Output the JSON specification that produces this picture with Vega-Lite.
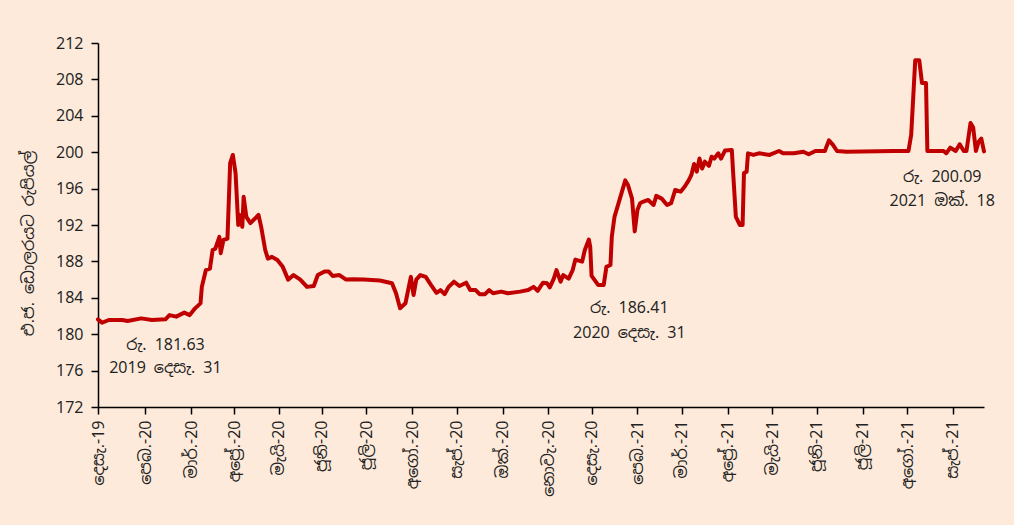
{
  "$schema": "https://vega.github.io/schema/vega-lite/v6.json",
  "width": 886,
  "height": 364,
  "autosize": {"type": "none"},
  "padding": {"left": 98, "top": 43, "right": 30, "bottom": 118},
  "background": "#FDEADA",
  "config": {
    "view": {"stroke": null},
    "font": "Noto Sans Sinhala, Noto Sans",
    "axis": {
      "domainColor": "#000000",
      "tickColor": "#000000",
      "labelColor": "#222222",
      "titleColor": "#222222",
      "labelFont": "Noto Sans Sinhala, Noto Sans",
      "titleFont": "Noto Sans Sinhala, Noto Sans",
      "labelFontSize": 16,
      "titleFontSize": 16,
      "titleFontWeight": "normal",
      "grid": false,
      "tickSize": 7,
      "domainWidth": 1.5,
      "tickWidth": 1.5,
      "labelOverlap": false
    }
  },
  "datasets": {
    "rate": [
      {"date": "2019-12-31", "value": 181.63},
      {"date": "2020-01-03", "value": 181.26},
      {"date": "2020-01-08", "value": 181.56},
      {"date": "2020-01-18", "value": 181.56},
      {"date": "2020-01-22", "value": 181.45},
      {"date": "2020-02-01", "value": 181.74},
      {"date": "2020-02-09", "value": 181.56},
      {"date": "2020-02-19", "value": 181.63},
      {"date": "2020-02-22", "value": 182.1},
      {"date": "2020-02-27", "value": 181.93},
      {"date": "2020-03-04", "value": 182.37},
      {"date": "2020-03-08", "value": 182.1},
      {"date": "2020-03-12", "value": 182.84},
      {"date": "2020-03-16", "value": 183.39},
      {"date": "2020-03-17", "value": 185.2},
      {"date": "2020-03-20", "value": 187.05},
      {"date": "2020-03-23", "value": 187.2},
      {"date": "2020-03-25", "value": 189.25},
      {"date": "2020-03-27", "value": 189.4},
      {"date": "2020-03-30", "value": 190.7},
      {"date": "2020-03-31", "value": 188.9},
      {"date": "2020-04-02", "value": 190.35},
      {"date": "2020-04-05", "value": 190.5},
      {"date": "2020-04-07", "value": 198.8},
      {"date": "2020-04-09", "value": 199.7},
      {"date": "2020-04-11", "value": 197.7},
      {"date": "2020-04-13", "value": 192.0},
      {"date": "2020-04-14", "value": 193.1},
      {"date": "2020-04-16", "value": 191.8},
      {"date": "2020-04-17", "value": 195.1},
      {"date": "2020-04-19", "value": 192.9},
      {"date": "2020-04-22", "value": 192.2},
      {"date": "2020-04-24", "value": 192.5},
      {"date": "2020-04-28", "value": 193.1},
      {"date": "2020-04-30", "value": 191.8},
      {"date": "2020-05-03", "value": 189.25},
      {"date": "2020-05-05", "value": 188.3},
      {"date": "2020-05-08", "value": 188.5},
      {"date": "2020-05-12", "value": 188.15},
      {"date": "2020-05-16", "value": 187.4},
      {"date": "2020-05-20", "value": 186.0},
      {"date": "2020-05-24", "value": 186.5},
      {"date": "2020-05-29", "value": 186.0},
      {"date": "2020-06-03", "value": 185.2},
      {"date": "2020-06-08", "value": 185.3},
      {"date": "2020-06-11", "value": 186.5},
      {"date": "2020-06-16", "value": 186.9},
      {"date": "2020-06-19", "value": 186.9},
      {"date": "2020-06-22", "value": 186.4},
      {"date": "2020-06-27", "value": 186.5},
      {"date": "2020-07-02", "value": 186.0},
      {"date": "2020-07-07", "value": 186.03},
      {"date": "2020-07-15", "value": 186.0},
      {"date": "2020-07-27", "value": 185.9},
      {"date": "2020-08-05", "value": 185.6},
      {"date": "2020-08-08", "value": 184.5},
      {"date": "2020-08-11", "value": 182.85},
      {"date": "2020-08-15", "value": 183.4},
      {"date": "2020-08-19", "value": 186.3},
      {"date": "2020-08-21", "value": 184.3},
      {"date": "2020-08-23", "value": 186.0},
      {"date": "2020-08-26", "value": 186.5},
      {"date": "2020-08-30", "value": 186.3},
      {"date": "2020-09-03", "value": 185.4},
      {"date": "2020-09-07", "value": 184.55},
      {"date": "2020-09-10", "value": 184.85},
      {"date": "2020-09-13", "value": 184.4},
      {"date": "2020-09-16", "value": 185.2},
      {"date": "2020-09-20", "value": 185.77},
      {"date": "2020-09-24", "value": 185.3},
      {"date": "2020-09-29", "value": 185.66},
      {"date": "2020-10-02", "value": 184.85},
      {"date": "2020-10-06", "value": 184.85},
      {"date": "2020-10-09", "value": 184.4},
      {"date": "2020-10-13", "value": 184.4},
      {"date": "2020-10-16", "value": 184.85},
      {"date": "2020-10-19", "value": 184.5},
      {"date": "2020-10-25", "value": 184.68},
      {"date": "2020-10-30", "value": 184.5},
      {"date": "2020-11-08", "value": 184.68},
      {"date": "2020-11-14", "value": 184.85},
      {"date": "2020-11-18", "value": 185.2},
      {"date": "2020-11-21", "value": 184.77},
      {"date": "2020-11-25", "value": 185.66},
      {"date": "2020-11-28", "value": 185.6},
      {"date": "2020-11-30", "value": 185.15},
      {"date": "2020-12-03", "value": 186.1},
      {"date": "2020-12-05", "value": 187.05},
      {"date": "2020-12-08", "value": 185.77},
      {"date": "2020-12-10", "value": 186.5},
      {"date": "2020-12-14", "value": 186.1},
      {"date": "2020-12-17", "value": 187.05},
      {"date": "2020-12-19", "value": 188.2},
      {"date": "2020-12-24", "value": 187.97},
      {"date": "2020-12-26", "value": 189.25},
      {"date": "2020-12-29", "value": 190.4},
      {"date": "2020-12-30", "value": 189.6},
      {"date": "2020-12-31", "value": 186.41},
      {"date": "2021-01-05", "value": 185.4},
      {"date": "2021-01-09", "value": 185.4},
      {"date": "2021-01-11", "value": 187.4},
      {"date": "2021-01-14", "value": 187.6},
      {"date": "2021-01-15", "value": 190.7},
      {"date": "2021-01-17", "value": 192.9},
      {"date": "2021-01-21", "value": 194.9},
      {"date": "2021-01-25", "value": 196.9},
      {"date": "2021-01-27", "value": 196.4},
      {"date": "2021-01-30", "value": 194.9},
      {"date": "2021-02-01", "value": 191.3},
      {"date": "2021-02-03", "value": 193.65},
      {"date": "2021-02-05", "value": 194.4},
      {"date": "2021-02-07", "value": 194.55},
      {"date": "2021-02-11", "value": 194.75},
      {"date": "2021-02-15", "value": 194.2},
      {"date": "2021-02-17", "value": 195.2},
      {"date": "2021-02-21", "value": 194.9},
      {"date": "2021-02-25", "value": 194.2},
      {"date": "2021-02-28", "value": 194.4},
      {"date": "2021-03-03", "value": 195.85},
      {"date": "2021-03-07", "value": 195.66},
      {"date": "2021-03-10", "value": 196.2},
      {"date": "2021-03-13", "value": 196.9},
      {"date": "2021-03-15", "value": 197.5},
      {"date": "2021-03-17", "value": 198.7},
      {"date": "2021-03-19", "value": 197.86},
      {"date": "2021-03-21", "value": 199.3},
      {"date": "2021-03-23", "value": 198.2},
      {"date": "2021-03-25", "value": 198.96},
      {"date": "2021-03-28", "value": 198.5},
      {"date": "2021-03-30", "value": 199.5},
      {"date": "2021-04-01", "value": 199.3},
      {"date": "2021-04-04", "value": 199.88},
      {"date": "2021-04-06", "value": 199.3},
      {"date": "2021-04-09", "value": 200.2},
      {"date": "2021-04-14", "value": 200.24},
      {"date": "2021-04-15", "value": 197.7},
      {"date": "2021-04-17", "value": 192.9},
      {"date": "2021-04-20", "value": 192.0},
      {"date": "2021-04-22", "value": 192.0},
      {"date": "2021-04-23", "value": 197.7},
      {"date": "2021-04-25", "value": 197.86},
      {"date": "2021-04-26", "value": 199.88},
      {"date": "2021-04-30", "value": 199.7},
      {"date": "2021-05-04", "value": 199.88},
      {"date": "2021-05-12", "value": 199.7},
      {"date": "2021-05-19", "value": 200.13},
      {"date": "2021-05-22", "value": 199.88},
      {"date": "2021-05-30", "value": 199.88},
      {"date": "2021-06-06", "value": 200.05},
      {"date": "2021-06-10", "value": 199.77},
      {"date": "2021-06-15", "value": 200.13},
      {"date": "2021-06-22", "value": 200.13},
      {"date": "2021-06-25", "value": 201.3},
      {"date": "2021-06-28", "value": 200.8},
      {"date": "2021-07-01", "value": 200.13},
      {"date": "2021-07-08", "value": 200.05},
      {"date": "2021-08-12", "value": 200.13},
      {"date": "2021-08-23", "value": 200.13},
      {"date": "2021-08-25", "value": 201.9},
      {"date": "2021-08-28", "value": 210.1},
      {"date": "2021-08-31", "value": 210.1},
      {"date": "2021-09-02", "value": 207.6},
      {"date": "2021-09-05", "value": 207.6},
      {"date": "2021-09-06", "value": 200.13},
      {"date": "2021-09-18", "value": 200.13},
      {"date": "2021-09-20", "value": 199.88},
      {"date": "2021-09-23", "value": 200.5},
      {"date": "2021-09-27", "value": 200.13},
      {"date": "2021-09-30", "value": 200.87},
      {"date": "2021-10-03", "value": 200.13},
      {"date": "2021-10-05", "value": 200.13},
      {"date": "2021-10-08", "value": 203.2},
      {"date": "2021-10-10", "value": 202.7},
      {"date": "2021-10-12", "value": 200.13},
      {"date": "2021-10-14", "value": 201.15},
      {"date": "2021-10-16", "value": 201.5},
      {"date": "2021-10-18", "value": 200.09}
    ],
    "notes": [
      {"date": "2020-02-19", "value": 178.8, "label": "රු. 181.63"},
      {"date": "2020-02-19", "value": 176.3, "label": "2019 දෙසැ. 31"},
      {"date": "2021-01-28", "value": 182.88, "label": "රු. 186.41"},
      {"date": "2021-01-28", "value": 180.13, "label": "2020 දෙසැ. 31"},
      {"date": "2021-09-17", "value": 197.27, "label": "රු. 200.09"},
      {"date": "2021-09-17", "value": 194.64, "label": "2021 ඔක්. 18"}
    ]
  },
  "encoding": {
    "x": {
      "field": "date",
      "type": "temporal",
      "scale": {
        "type": "utc",
        "domain": [
          {"year": 2019, "month": 12, "date": 31, "utc": true},
          {"year": 2021, "month": 10, "date": 18, "utc": true}
        ]
      },
      "axis": {
        "title": null,
        "labelAngle": -90,
        "labelPadding": 6,
        "values": [
          {"year": 2019, "month": 12, "date": 31, "utc": true},
          {"year": 2020, "month": 2, "date": 4, "utc": true},
          {"year": 2020, "month": 3, "date": 9, "utc": true},
          {"year": 2020, "month": 4, "date": 10, "utc": true},
          {"year": 2020, "month": 5, "date": 13, "utc": true},
          {"year": 2020, "month": 6, "date": 14, "utc": true},
          {"year": 2020, "month": 7, "date": 17, "utc": true},
          {"year": 2020, "month": 8, "date": 20, "utc": true},
          {"year": 2020, "month": 9, "date": 22, "utc": true},
          {"year": 2020, "month": 10, "date": 26, "utc": true},
          {"year": 2020, "month": 11, "date": 29, "utc": true},
          {"year": 2020, "month": 12, "date": 31, "utc": true},
          {"year": 2021, "month": 2, "date": 3, "utc": true},
          {"year": 2021, "month": 3, "date": 8, "utc": true},
          {"year": 2021, "month": 4, "date": 11, "utc": true},
          {"year": 2021, "month": 5, "date": 14, "utc": true},
          {"year": 2021, "month": 6, "date": 16, "utc": true},
          {"year": 2021, "month": 7, "date": 20, "utc": true},
          {"year": 2021, "month": 8, "date": 22, "utc": true},
          {"year": 2021, "month": 9, "date": 25, "utc": true}
        ],
        "labelExpr": "['ජන.','පෙබ.','මාර්.','අප්\u200dරේ.','මැයි','ජූනි','ජූලි','අගෝ.','සැප්.','ඔක්.','නොවැ.','දෙසැ.'][utcmonth(datum.value)] + '-' + utcFormat(datum.value, '%y')"
      }
    },
    "y": {
      "field": "value",
      "type": "quantitative",
      "scale": {"domain": [172, 212], "nice": false, "zero": false},
      "axis": {
        "title": "එ.ජ. ඩොලරයට රුපියල්",
        "values": [172, 176, 180, 184, 188, 192, 196, 200, 204, 208, 212],
        "labelPadding": 8,
        "titleX": -62,
        "titleY": 200
      }
    }
  },
  "layer": [
    {
      "data": {"name": "rate"},
      "mark": {"type": "line", "color": "#C00000", "strokeWidth": 4, "strokeJoin": "round", "strokeCap": "round"}
    },
    {
      "data": {"name": "notes"},
      "mark": {"type": "text", "fontSize": 16, "color": "#222222", "align": "center", "baseline": "middle", "font": "Noto Sans Sinhala, Noto Sans"},
      "encoding": {
        "text": {"field": "label"}
      }
    }
  ]
}
